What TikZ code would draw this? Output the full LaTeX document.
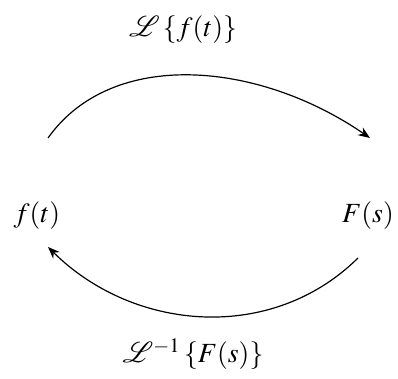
\documentclass[tikz,border=0pt]{standalone}
\usepackage{amsmath}
\usepackage{mathptmx}
\usepackage{mathrsfs}
\usepackage{tikz}
\usetikzlibrary{arrows.meta,positioning,calc}

\begin{document}
\begin{tikzpicture}[
  x=0.0133cm, y=0.0133cm,
  fnode/.style={inner sep=2pt, font=\fontsize{10.5}{12}\selectfont},
  lbl/.style={inner sep=2pt, font=\fontsize{10.5}{12}\selectfont},
  arrow/.style={-{Stealth[length=4.5pt, width=3.5pt]}, line width=0.45pt}
]
\useasboundingbox (0,0) rectangle (398,379);

\node[fnode] (ft) at (37,163) {$f(t)$};
\node[fnode] (Fs) at (368,163) {$F(s)$};

\node[lbl] (Lf) at (183,349) {$\mathscr{L}\left\{f(t)\right\}$};
\node[lbl] (LF) at (193,25) {$\mathscr{L}^{-1}\left\{F(s)\right\}$};

\draw[arrow] ($(ft)+(11,78)$) .. controls ($(ft)+(75,168)$) and ($(Fs)+(-110,155)$) .. ($(Fs)+(2,78)$);
\draw[arrow] ($(Fs)+(-10,-42)$) .. controls ($(Fs)+(-96,-127)$) and ($(ft)+(97,-116)$) .. ($(ft)+(11,-31)$);
\end{tikzpicture}
\end{document}
